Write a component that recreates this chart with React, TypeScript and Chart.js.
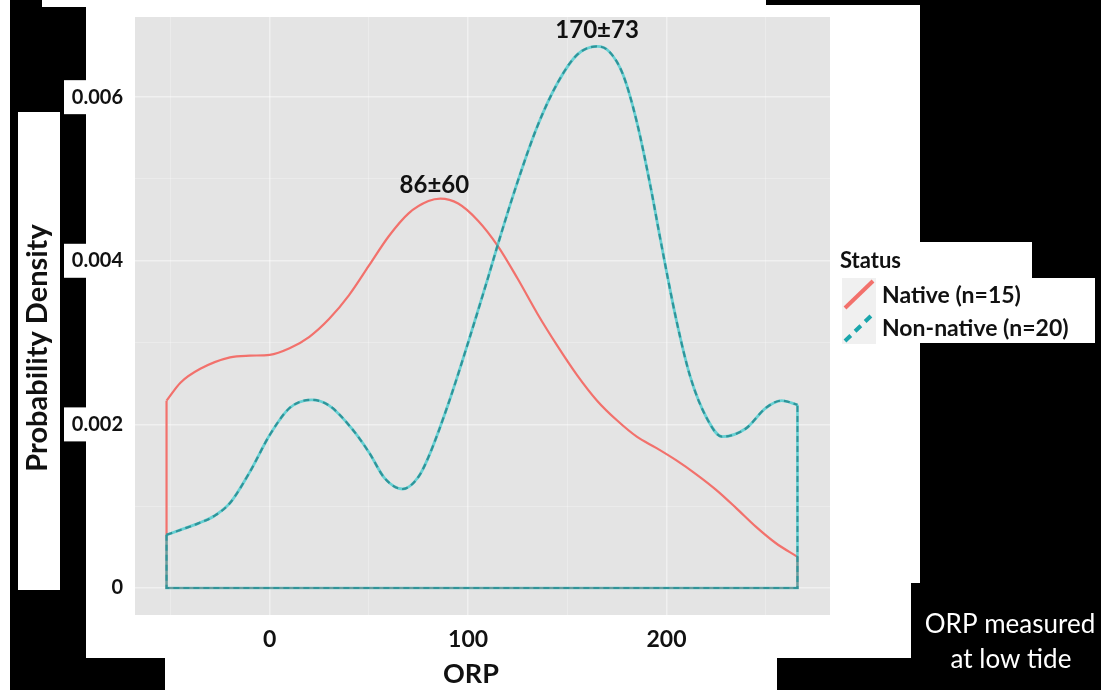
import React, { useEffect, useRef } from "react";
import { Chart, registerables } from "chart.js";

Chart.register(...registerables);

// ORP grid (mV) and kernel density estimates for each status group
const nativeOrp = [-52, -45, -35, -20, -10, 0, 10, 20, 30, 40, 50, 60, 70, 80, 86, 95, 105, 115, 125, 135, 145, 155, 165, 175, 185, 195, 205, 215, 225, 235, 245, 255, 266];
const nativeDensity = [0.00229, 0.00251, 0.00268, 0.00282, 0.00284, 0.00285, 0.00293, 0.00307, 0.00329, 0.00358, 0.00394, 0.00430, 0.00458, 0.00473, 0.00476, 0.0047, 0.00449, 0.00418, 0.00378, 0.00335, 0.00296, 0.0026, 0.00229, 0.00205, 0.00185, 0.00171, 0.00156, 0.00139, 0.0012, 0.00098, 0.00075, 0.00055, 0.00038];

const nonNativeOrp = [-52, -45, -36, -28, -20, -10, 0, 10, 21, 30, 41, 50, 58, 67, 75, 80, 90, 100, 110, 115, 125, 135, 145, 155, 165, 171, 178, 185, 192, 197, 205, 212, 220, 228, 240, 250, 258, 266];
const nonNativeDensity = [0.00065, 0.00071, 0.00079, 0.00088, 0.00104, 0.00142, 0.00187, 0.0022, 0.0023, 0.00223, 0.00196, 0.00166, 0.00134, 0.00121, 0.00136, 0.00160, 0.00225, 0.003, 0.00379, 0.00420, 0.00497, 0.00565, 0.00617, 0.00652, 0.00662, 0.00656, 0.00628, 0.0057, 0.0049, 0.00425, 0.00327, 0.00258, 0.00209, 0.00185, 0.00195, 0.0022, 0.00229, 0.00224];

const groupNames = ["Native (n=15)", "Non-native (n=20)"];
const legendTitle = "Status";

// mean ± sd labels, anchored near each peak
const peakLabels = ["86±60", "170±73"];
const peakLabelOrp = [83, 165];
const peakLabelDensity = [0.00492, 0.00682];

const xTicks = [-50, 0, 50, 100, 150, 200, 250];
const xTickLabels = ["", "0", "", "100", "", "200", ""];
const yTicks = [0, 0.001, 0.002, 0.003, 0.004, 0.005, 0.006];
const yTickLabels = ["0", "", "0.002", "", "0.004", "", "0.006"];

const xTitle = "ORP";
const yTitle = "Probability Density";
const caption = ["ORP measured", "at low tide"];

const RED = "#F2716C";
const TEAL_DARK = "#2F9499";
const TEAL_HALO = "rgba(0,191,196,0.55)";
const FONT = "Lato, 'Open Sans', sans-serif";

const toPoints = (xs: number[], ys: number[]) => xs.map((x, i) => ({ x, y: ys[i] }));
// closes a density curve down to zero at both ends, as geom_density draws it
const outline = (xs: number[], ys: number[]) => [
  { x: xs[0], y: ys[0] },
  { x: xs[0], y: 0 },
  { x: xs[xs.length - 1], y: 0 },
  { x: xs[xs.length - 1], y: ys[ys.length - 1] },
];

const backdrop = {
  id: "backdrop",
  beforeDraw(chart: any) {
    const { ctx, chartArea, scales } = chart;
    ctx.save();
    ctx.fillStyle = "#000";
    ctx.fillRect(0, 0, chart.width, chart.height);
    ctx.fillStyle = "#fff";
    const whites = [
      [0, 0, 10, 690],
      [42, 0, 44, 7],
      [86, 0, 680, 658],
      [766, 5, 154, 578],
      [766, 583, 145, 75],
      [165, 658, 612, 32],
      [18, 112, 42, 478],
      [920, 242, 112, 36],
      [920, 278, 175, 65],
    ];
    whites.forEach(([x, y, w, h]) => ctx.fillRect(x, y, w, h));
    // white boxes behind the y tick labels
    [0.002, 0.004, 0.006].forEach((v) => {
      const py = scales.y.getPixelForValue(v);
      ctx.fillRect(64, py - 17, 22, 34);
    });
    // plot panel
    ctx.fillStyle = "#E4E4E4";
    ctx.fillRect(chartArea.left, chartArea.top, chartArea.right - chartArea.left, chartArea.bottom - chartArea.top);
    ctx.restore();
  },
  afterDraw(chart: any) {
    const { ctx, scales } = chart;
    ctx.save();
    ctx.fillStyle = "#111";
    ctx.textAlign = "center";
    ctx.textBaseline = "middle";
    ctx.font = `bold 24px ${FONT}`;
    peakLabels.forEach((t, i) => {
      ctx.fillText(t, scales.x.getPixelForValue(peakLabelOrp[i]), scales.y.getPixelForValue(peakLabelDensity[i]));
    });

    // axis titles
    ctx.font = `bold 27px ${FONT}`;
    ctx.fillText(xTitle, 471, 674);
    ctx.save();
    ctx.translate(38, 348);
    ctx.rotate(-Math.PI / 2);
    ctx.font = `bold 29px ${FONT}`;
    ctx.fillText(yTitle, 0, 0);
    ctx.restore();

    // legend
    ctx.textAlign = "left";
    ctx.font = `bold 22px ${FONT}`;
    ctx.fillText(legendTitle, 840, 261);
    const keyX = 842, keyW = 34, keyH = 33;
    const rows = [278, 311];
    rows.forEach((ky, i) => {
      ctx.fillStyle = "#F0F0F0";
      ctx.fillRect(keyX, ky, keyW, keyH);
      ctx.lineWidth = 4;
      ctx.lineCap = "butt";
      if (i === 0) {
        ctx.strokeStyle = RED;
        ctx.setLineDash([]);
      } else {
        ctx.strokeStyle = "#1AA6AC";
        ctx.setLineDash([8, 6]);
      }
      ctx.beginPath();
      ctx.moveTo(keyX + 3, ky + keyH - 3);
      ctx.lineTo(keyX + keyW - 3, ky + 3);
      ctx.stroke();
      ctx.setLineDash([]);
      ctx.fillStyle = "#111";
      ctx.font = `bold 23px ${FONT}`;
      ctx.fillText(groupNames[i], 882, ky + keyH / 2 + 1);
    });

    // caption on the dark margin
    ctx.fillStyle = "#fff";
    ctx.textAlign = "center";
    ctx.font = `26px ${FONT}`;
    ctx.fillText(caption[0], 1010, 625);
    ctx.fillText(caption[1], 1011, 660);
    ctx.restore();
  },
};

const majorX = (v: number) => v % 100 === 0;
const majorY = (v: number) => {
  const i = yTicks.indexOf(v);
  return i >= 0 && yTickLabels[i] !== "";
};

export default function App() {
  const canvasRef = useRef<HTMLCanvasElement | null>(null);

  useEffect(() => {
    if (!canvasRef.current) return;
    const line = { pointRadius: 0, fill: false };
    const chart = new Chart(canvasRef.current, {
      type: "line",
      data: {
        datasets: [
          {
            ...line,
            label: groupNames[1],
            data: toPoints(nonNativeOrp, nonNativeDensity),
            borderColor: TEAL_DARK,
            borderWidth: 2.2,
            borderDash: [6, 4],
            cubicInterpolationMode: "monotone",
            order: 0,
          },
          {
            ...line,
            label: groupNames[1] + " halo",
            data: toPoints(nonNativeOrp, nonNativeDensity),
            borderColor: TEAL_HALO,
            borderWidth: 2.8,
            cubicInterpolationMode: "monotone",
            order: 1,
          },
          {
            ...line,
            label: groupNames[1] + " outline",
            data: outline(nonNativeOrp, nonNativeDensity),
            borderColor: TEAL_DARK,
            borderWidth: 2,
            borderDash: [6, 4],
            tension: 0,
            order: 2,
          },
          {
            ...line,
            label: groupNames[1] + " outline halo",
            data: outline(nonNativeOrp, nonNativeDensity),
            borderColor: TEAL_HALO,
            borderWidth: 2.6,
            tension: 0,
            order: 3,
          },
          {
            ...line,
            label: groupNames[0],
            data: toPoints(nativeOrp, nativeDensity),
            borderColor: RED,
            borderWidth: 2.2,
            cubicInterpolationMode: "monotone",
            order: 4,
          },
          {
            ...line,
            label: groupNames[0] + " outline",
            data: outline(nativeOrp, nativeDensity),
            borderColor: RED,
            borderWidth: 2.2,
            tension: 0,
            order: 5,
          },
        ],
      },
      options: {
        responsive: false,
        animation: false,
        devicePixelRatio: 1,
        layout: { padding: { left: 0, right: 271, top: 17, bottom: 0 } },
        plugins: {
          legend: { display: false },
          tooltip: { enabled: false },
        },
        scales: {
          x: {
            type: "linear",
            min: -67.9,
            max: 282.4,
            afterBuildTicks: (scale: any) => {
              scale.ticks = xTicks.map((value) => ({ value }));
            },
            afterFit: (scale: any) => {
              scale.height = 75;
              scale.paddingLeft = 0;
              scale.paddingRight = 0;
            },
            border: { display: false },
            grid: {
              drawTicks: false,
              color: (c: any) => (c.tick && majorX(c.tick.value) ? "rgba(255,255,255,0.45)" : "rgba(255,255,255,0.25)"),
              lineWidth: (c: any) => (c.tick && majorX(c.tick.value) ? 1.5 : 1),
            },
            ticks: {
              padding: 11,
              color: "#111",
              font: { family: FONT, size: 23, weight: "bold" },
              maxRotation: 0,
              autoSkip: false,
              callback: (value: any) => {
                const i = xTicks.indexOf(Number(value));
                return i >= 0 ? xTickLabels[i] : "";
              },
            },
          },
          y: {
            type: "linear",
            min: -0.00033,
            max: 0.00698,
            afterBuildTicks: (scale: any) => {
              scale.ticks = yTicks.map((value) => ({ value }));
            },
            afterFit: (scale: any) => {
              scale.width = 135;
              scale.paddingTop = 0;
              scale.paddingBottom = 0;
            },
            border: { display: false },
            grid: {
              drawTicks: false,
              color: (c: any) => (c.tick && majorY(c.tick.value) ? "rgba(255,255,255,0.45)" : "rgba(255,255,255,0.25)"),
              lineWidth: (c: any) => (c.tick && majorY(c.tick.value) ? 1.5 : 1),
            },
            ticks: {
              padding: 12,
              color: "#111",
              font: { family: FONT, size: 20, weight: "bold" },
              autoSkip: false,
              callback: (value: any) => {
                const i = yTicks.indexOf(Number(value));
                return i >= 0 ? yTickLabels[i] : "";
              },
            },
          },
        },
      },
      plugins: [backdrop],
    } as any);
    return () => chart.destroy();
  }, []);

  return (
    <div style={{ position: "fixed", left: 0, top: 0, width: 1101, height: 690, background: "#000" }}>
      <canvas ref={canvasRef} width={1101} height={690} style={{ display: "block" }} />
    </div>
  );
}
